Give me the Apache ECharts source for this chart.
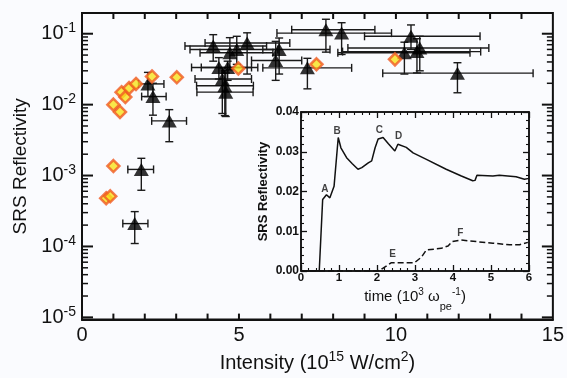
<!DOCTYPE html>
<html><head><meta charset="utf-8">
<script src="https://cdn.jsdelivr.net/npm/echarts@6/dist/echarts.min.js"></script>
<style>html,body{margin:0;padding:0;background:#fafbfe}#c{width:567px;height:378px}</style>
</head><body><div id="c"></div>
<script>
// ---- main plot: triangles with error bars ----
const triX   = [1.68, 1.89, 2.10, 2.26, 2.78, 4.18, 4.71, 4.93, 5.26, 4.36, 4.64, 4.47, 4.55, 4.58, 6.28, 6.17, 7.18, 7.77, 8.27, 10.48, 10.27, 10.76, 10.67, 11.96];
const triY   = [2.1e-4, 1.22e-3, 0.0196, 0.0130, 0.0059, 0.067, 0.054, 0.060, 0.074, 0.0334, 0.0334, 0.023, 0.0185, 0.015, 0.060, 0.042, 0.033, 0.114, 0.102, 0.092, 0.054, 0.063, 0.056, 0.0278];
const triXLo = [1.30, 1.46, 1.80, 1.90, 2.22, 3.28, 3.76, 3.44, 3.92, 3.49, 3.80, 3.60, 3.65, 3.66, 5.76, 5.40, 5.76, 6.68, 6.21, 9.00, 8.15, 8.47, 8.30, 9.58];
const triXHi = [2.10, 2.28, 2.61, 2.68, 3.33, 5.88, 6.08, 6.24, 6.62, 5.40, 5.60, 5.40, 5.46, 5.45, 7.90, 7.00, 8.59, 9.33, 9.86, 12.68, 12.36, 12.96, 12.70, 14.37];
const triYLo = [1.1e-4, 6.2e-4, 0.013, 0.0071, 0.0030, 0.041, 0.031, 0.037, 0.027, 0.023, 0.022, 0.0075, 0.0070, 0.0068, 0.027, 0.022, 0.0167, 0.055, 0.051, 0.060, 0.027, 0.030, 0.028, 0.0147];
const triYHi = [3.1e-4, 1.75e-3, 0.0285, 0.020, 0.0085, 0.097, 0.088, 0.092, 0.103, 0.046, 0.041, 0.033, 0.030, 0.028, 0.087, 0.078, 0.045, 0.160, 0.143, 0.133, 0.076, 0.092, 0.085, 0.039];
// ---- main plot: diamonds ----
const diaX = [0.77, 0.90, 1.00, 1.00, 1.21, 1.26, 1.38, 1.50, 1.72, 2.23, 3.02, 4.98, 7.47, 9.97];
const diaY = [4.8e-4, 5.1e-4, 0.00136, 0.0100, 0.0079, 0.0150, 0.0128, 0.0171, 0.0196, 0.0250, 0.0243, 0.0324, 0.037, 0.0435];
// ---- main axes ----
const xLabelValues = [0, 5, 10, 15];
const xTickValues = [1, 2, 3, 4, 5, 6, 7, 8, 9, 10, 11, 12, 13, 14];
const yDecades = [-5, -4, -3, -2, -1];
// ---- inset ----
const solidT = [0, 0.48, 0.57, 0.67, 0.76, 0.87, 0.98, 1.05, 1.2, 1.35, 1.5, 1.6, 1.77, 1.86, 1.95, 2.03, 2.16, 2.3, 2.47, 2.55, 2.77, 2.95, 3.3, 3.82, 4.22, 4.52, 4.58, 4.63, 5.05, 5.22, 5.66, 5.88, 6.0];
const solidV = [0, 0, 0.018, 0.0192, 0.0184, 0.0213, 0.0336, 0.031, 0.0285, 0.027, 0.0256, 0.026, 0.0272, 0.0277, 0.031, 0.0332, 0.0336, 0.032, 0.0302, 0.0319, 0.0311, 0.0297, 0.0281, 0.0256, 0.0239, 0.0227, 0.0228, 0.0241, 0.0239, 0.0241, 0.0237, 0.0231, 0.0233];
const dashT = [0, 2.02, 2.16, 2.38, 2.99, 3.17, 3.30, 3.69, 3.87, 3.98, 4.22, 4.61, 5.05, 5.49, 5.75, 5.97];
const dashV = [0, 0, 0.0007, 0.0021, 0.0021, 0.0035, 0.0053, 0.0057, 0.0063, 0.0074, 0.0078, 0.0074, 0.0070, 0.0066, 0.0066, 0.0072];
const annoLetters = ['A', 'B', 'C', 'D', 'E', 'F'];
const annoT = [0.63, 0.95, 2.06, 2.57, 2.41, 4.19];
const annoV = [0.0205, 0.0351, 0.0353, 0.0338, 0.0041, 0.0095];

const FF = '"Liberation Sans", Arial, Helvetica, sans-serif';
const INK = '#111';
const yMin = 9.3e-6, yMax = 0.196;
const xMin = 0, xMax = 15;

// y ticks for the log axis: [value, length]
const yTicks = [];
yDecades.forEach(d => {
  yTicks.push([Math.pow(10, d), 11]);
  for (let k = 2; k <= 9; k++) { const v = k * Math.pow(10, d); if (v <= yMax) yTicks.push([v, 6]); }
});

function logFmt(v) {
  const e = Math.log10(v);
  const r = Math.round(e);
  if (Math.abs(e - r) > 1e-6 || yDecades.indexOf(r) < 0) return '';
  return '{b|10}{s|' + r + '}';
}

const chart = echarts.init(document.getElementById('c'), null, {renderer: 'canvas'});
const option = {
  backgroundColor: '#fafbfe',
  animation: false,
  textStyle: {fontFamily: FF, color: INK},
  grid: [
    {left: 82, top: 13, right: 14, bottom: 53, show: true, borderColor: INK, borderWidth: 2},
    {left: 301, top: 112, right: 38, bottom: 107, show: true, borderColor: INK, borderWidth: 1.5}
  ],
  xAxis: [
    {type: 'value', gridIndex: 0, min: xMin, max: xMax, interval: 1, position: 'bottom',
     axisLine: {show: true, onZero: false, lineStyle: {color: INK, width: 2}},
     axisTick: {show: false},
     axisLabel: {interval: 0, margin: 6, fontSize: 20, color: INK, fontFamily: FF,
       formatter: v => xLabelValues.indexOf(v) >= 0 ? String(v) : ''},
     splitLine: {show: false},
     name: '{a|Intensity (10}{s|15}{a| W/cm}{s|2}{a|)}', nameLocation: 'middle', nameGap: 27,
     nameTextStyle: {rich: {a: {fontSize: 20, fontFamily: FF, color: INK, lineHeight: 25}, s: {fontSize: 14, fontFamily: FF, color: INK, verticalAlign: 'top', lineHeight: 15}}}},
    {type: 'value', gridIndex: 1, min: 0, max: 6, interval: 1, position: 'bottom',
     axisLine: {show: true, onZero: false, lineStyle: {color: INK, width: 1.5}},
     axisTick: {show: true, inside: true, length: 6, lineStyle: {color: INK, width: 1.3}},
     minorTick: {show: true, splitNumber: 5, length: 3, lineStyle: {color: INK, width: 1.1}},
     axisLabel: {margin: 1, fontSize: 11.5, fontWeight: 'bold', color: INK, fontFamily: FF},
     splitLine: {show: false},
     name: '{a|time (10}{s|3}{a| ω}{b|pe}{s|-1}{a|)}', nameLocation: 'middle', nameGap: 16,
     nameTextStyle: {rich: {a: {fontSize: 15, fontFamily: FF, color: INK, lineHeight: 19}, s: {fontSize: 10, fontFamily: FF, color: INK, verticalAlign: 'top', lineHeight: 10}, b: {fontSize: 11, fontFamily: FF, color: INK, verticalAlign: 'bottom', lineHeight: 10, padding: [0, 0, -6, 0]}}}},
    {type: 'value', gridIndex: 1, min: 0, max: 6, interval: 1, position: 'top',
     axisLine: {show: true, onZero: false, lineStyle: {color: INK, width: 1.5}},
     axisTick: {show: true, inside: true, length: 6, lineStyle: {color: INK, width: 1.3}},
     minorTick: {show: true, splitNumber: 5, length: 3, lineStyle: {color: INK, width: 1.1}},
     axisLabel: {show: false}, splitLine: {show: false}}
  ],
  yAxis: [
    {type: 'log', logBase: 10, gridIndex: 0, min: yMin, max: yMax, position: 'left',
     axisLine: {show: true, onZero: false, lineStyle: {color: INK, width: 2}},
     axisTick: {show: false},
     axisLabel: {margin: 6, formatter: logFmt,
       rich: {b: {fontSize: 20, fontFamily: FF, color: INK, lineHeight: 25}, s: {fontSize: 14, fontFamily: FF, color: INK, verticalAlign: 'top', lineHeight: 15}}},
     splitLine: {show: false},
     name: 'SRS Reflectivity', nameLocation: 'middle', nameGap: 46,
     nameTextStyle: {fontSize: 19, fontFamily: FF, color: INK}},
    {type: 'value', gridIndex: 1, min: 0, max: 0.04, interval: 0.01, position: 'left',
     axisLine: {show: true, onZero: false, lineStyle: {color: INK, width: 1.5}},
     axisTick: {show: true, inside: true, length: 6, lineStyle: {color: INK, width: 1.3}},
     minorTick: {show: true, splitNumber: 5, length: 3, lineStyle: {color: INK, width: 1.1}},
     axisLabel: {margin: 2, fontSize: 12, fontWeight: 'bold', color: INK, fontFamily: FF, formatter: v => v.toFixed(2)},
     splitLine: {show: false},
     name: 'SRS Reflectivity', nameLocation: 'middle', nameGap: 31,
     nameTextStyle: {fontSize: 13, fontWeight: 'bold', fontFamily: FF, color: INK}},
    {type: 'value', gridIndex: 1, min: 0, max: 0.04, interval: 0.01, position: 'right',
     axisLine: {show: true, onZero: false, lineStyle: {color: INK, width: 1.5}},
     axisTick: {show: true, inside: true, length: 6, lineStyle: {color: INK, width: 1.3}},
     minorTick: {show: true, splitNumber: 5, length: 3, lineStyle: {color: INK, width: 1.1}},
     axisLabel: {show: false}, splitLine: {show: false}}
  ],
  series: [
    {type: 'custom', name: 'yFrameTicks', xAxisIndex: 0, yAxisIndex: 0, silent: true, z: 7, clip: false,
     data: yTicks.map(t => [7, t[0], t[1]]),
     renderItem(params, api) {
       const len = api.value(2);
       const pl = api.coord([xMin, api.value(1)]);
       const pr = api.coord([xMax, api.value(1)]);
       const st = {stroke: INK, lineWidth: len > 8 ? 2 : 1.5};
       return {type: 'group', children: [
         {type: 'line', shape: {x1: pl[0], y1: pl[1], x2: pl[0] + len, y2: pl[1]}, style: st},
         {type: 'line', shape: {x1: pr[0] - len, y1: pr[1], x2: pr[0], y2: pr[1]}, style: st}
       ]};
     }},
    {type: 'custom', name: 'xFrameTicks', xAxisIndex: 0, yAxisIndex: 0, silent: true, z: 7, clip: false,
     data: xTickValues.map(v => [v, 0.001]),
     renderItem(params, api) {
       const pb = api.coord([api.value(0), yMin]);
       const pt = api.coord([api.value(0), yMax]);
       const st = {stroke: INK, lineWidth: 2};
       return {type: 'group', children: [
         {type: 'line', shape: {x1: pb[0], y1: pb[1], x2: pb[0], y2: pb[1] - 6}, style: st},
         {type: 'line', shape: {x1: pt[0], y1: pt[1], x2: pt[0], y2: pt[1] + 6}, style: st}
       ]};
     }},
    {type: 'custom', name: 'errorbars', xAxisIndex: 0, yAxisIndex: 0, silent: true, z: 4,
     data: triX.map((x, i) => [x, triY[i], triXLo[i], triXHi[i], triYLo[i], triYHi[i]]),
     renderItem(params, api) {
       const c = api.coord([api.value(0), api.value(1)]);
       const xl = api.coord([api.value(2), api.value(1)])[0];
       const xh = api.coord([api.value(3), api.value(1)])[0];
       const yl = api.coord([api.value(0), api.value(4)])[1];
       const yh = api.coord([api.value(0), api.value(5)])[1];
       const cap = 4;
       const st = {stroke: '#1a1a1a', lineWidth: 1.4};
       return {type: 'group', children: [
         {type: 'line', shape: {x1: xl, y1: c[1], x2: xh, y2: c[1]}, style: st},
         {type: 'line', shape: {x1: xl, y1: c[1] - cap, x2: xl, y2: c[1] + cap}, style: st},
         {type: 'line', shape: {x1: xh, y1: c[1] - cap, x2: xh, y2: c[1] + cap}, style: st},
         {type: 'line', shape: {x1: c[0], y1: yl, x2: c[0], y2: yh}, style: st},
         {type: 'line', shape: {x1: c[0] - cap, y1: yl, x2: c[0] + cap, y2: yl}, style: st},
         {type: 'line', shape: {x1: c[0] - cap, y1: yh, x2: c[0] + cap, y2: yh}, style: st}
       ]};
     }},
    {type: 'scatter', name: 'triangles', xAxisIndex: 0, yAxisIndex: 0, z: 5,
     symbol: 'triangle', symbolSize: [15, 13],
     itemStyle: {color: '#000'},
     data: triX.map((x, i) => [x, triY[i]])},
    {type: 'scatter', name: 'diamonds', xAxisIndex: 0, yAxisIndex: 0, z: 6,
     symbol: 'diamond', symbolSize: 12,
     itemStyle: {color: '#f8e21c', borderColor: '#f05a22', borderWidth: 2.5},
     data: diaX.map((x, i) => [x, diaY[i]])},
    {type: 'line', name: 'solid', xAxisIndex: 1, yAxisIndex: 1, z: 10, showSymbol: false,
     lineStyle: {color: INK, width: 1.5}, data: solidT.map((t, i) => [t, solidV[i]])},
    {type: 'line', name: 'dashed', xAxisIndex: 1, yAxisIndex: 1, z: 10, showSymbol: false,
     lineStyle: {color: INK, width: 1.5, type: [6, 3]}, data: dashT.map((t, i) => [t, dashV[i]])},
    {type: 'scatter', name: 'letters', xAxisIndex: 1, yAxisIndex: 1, z: 11, symbolSize: 0, silent: true,
     label: {show: true, position: 'inside', formatter: p => p.data[2], fontSize: 10, fontWeight: 'bold', color: INK, fontFamily: FF},
     data: annoT.map((t, i) => [t, annoV[i], annoLetters[i]])}
  ]
};
chart.setOption(option);
</script></body></html>
